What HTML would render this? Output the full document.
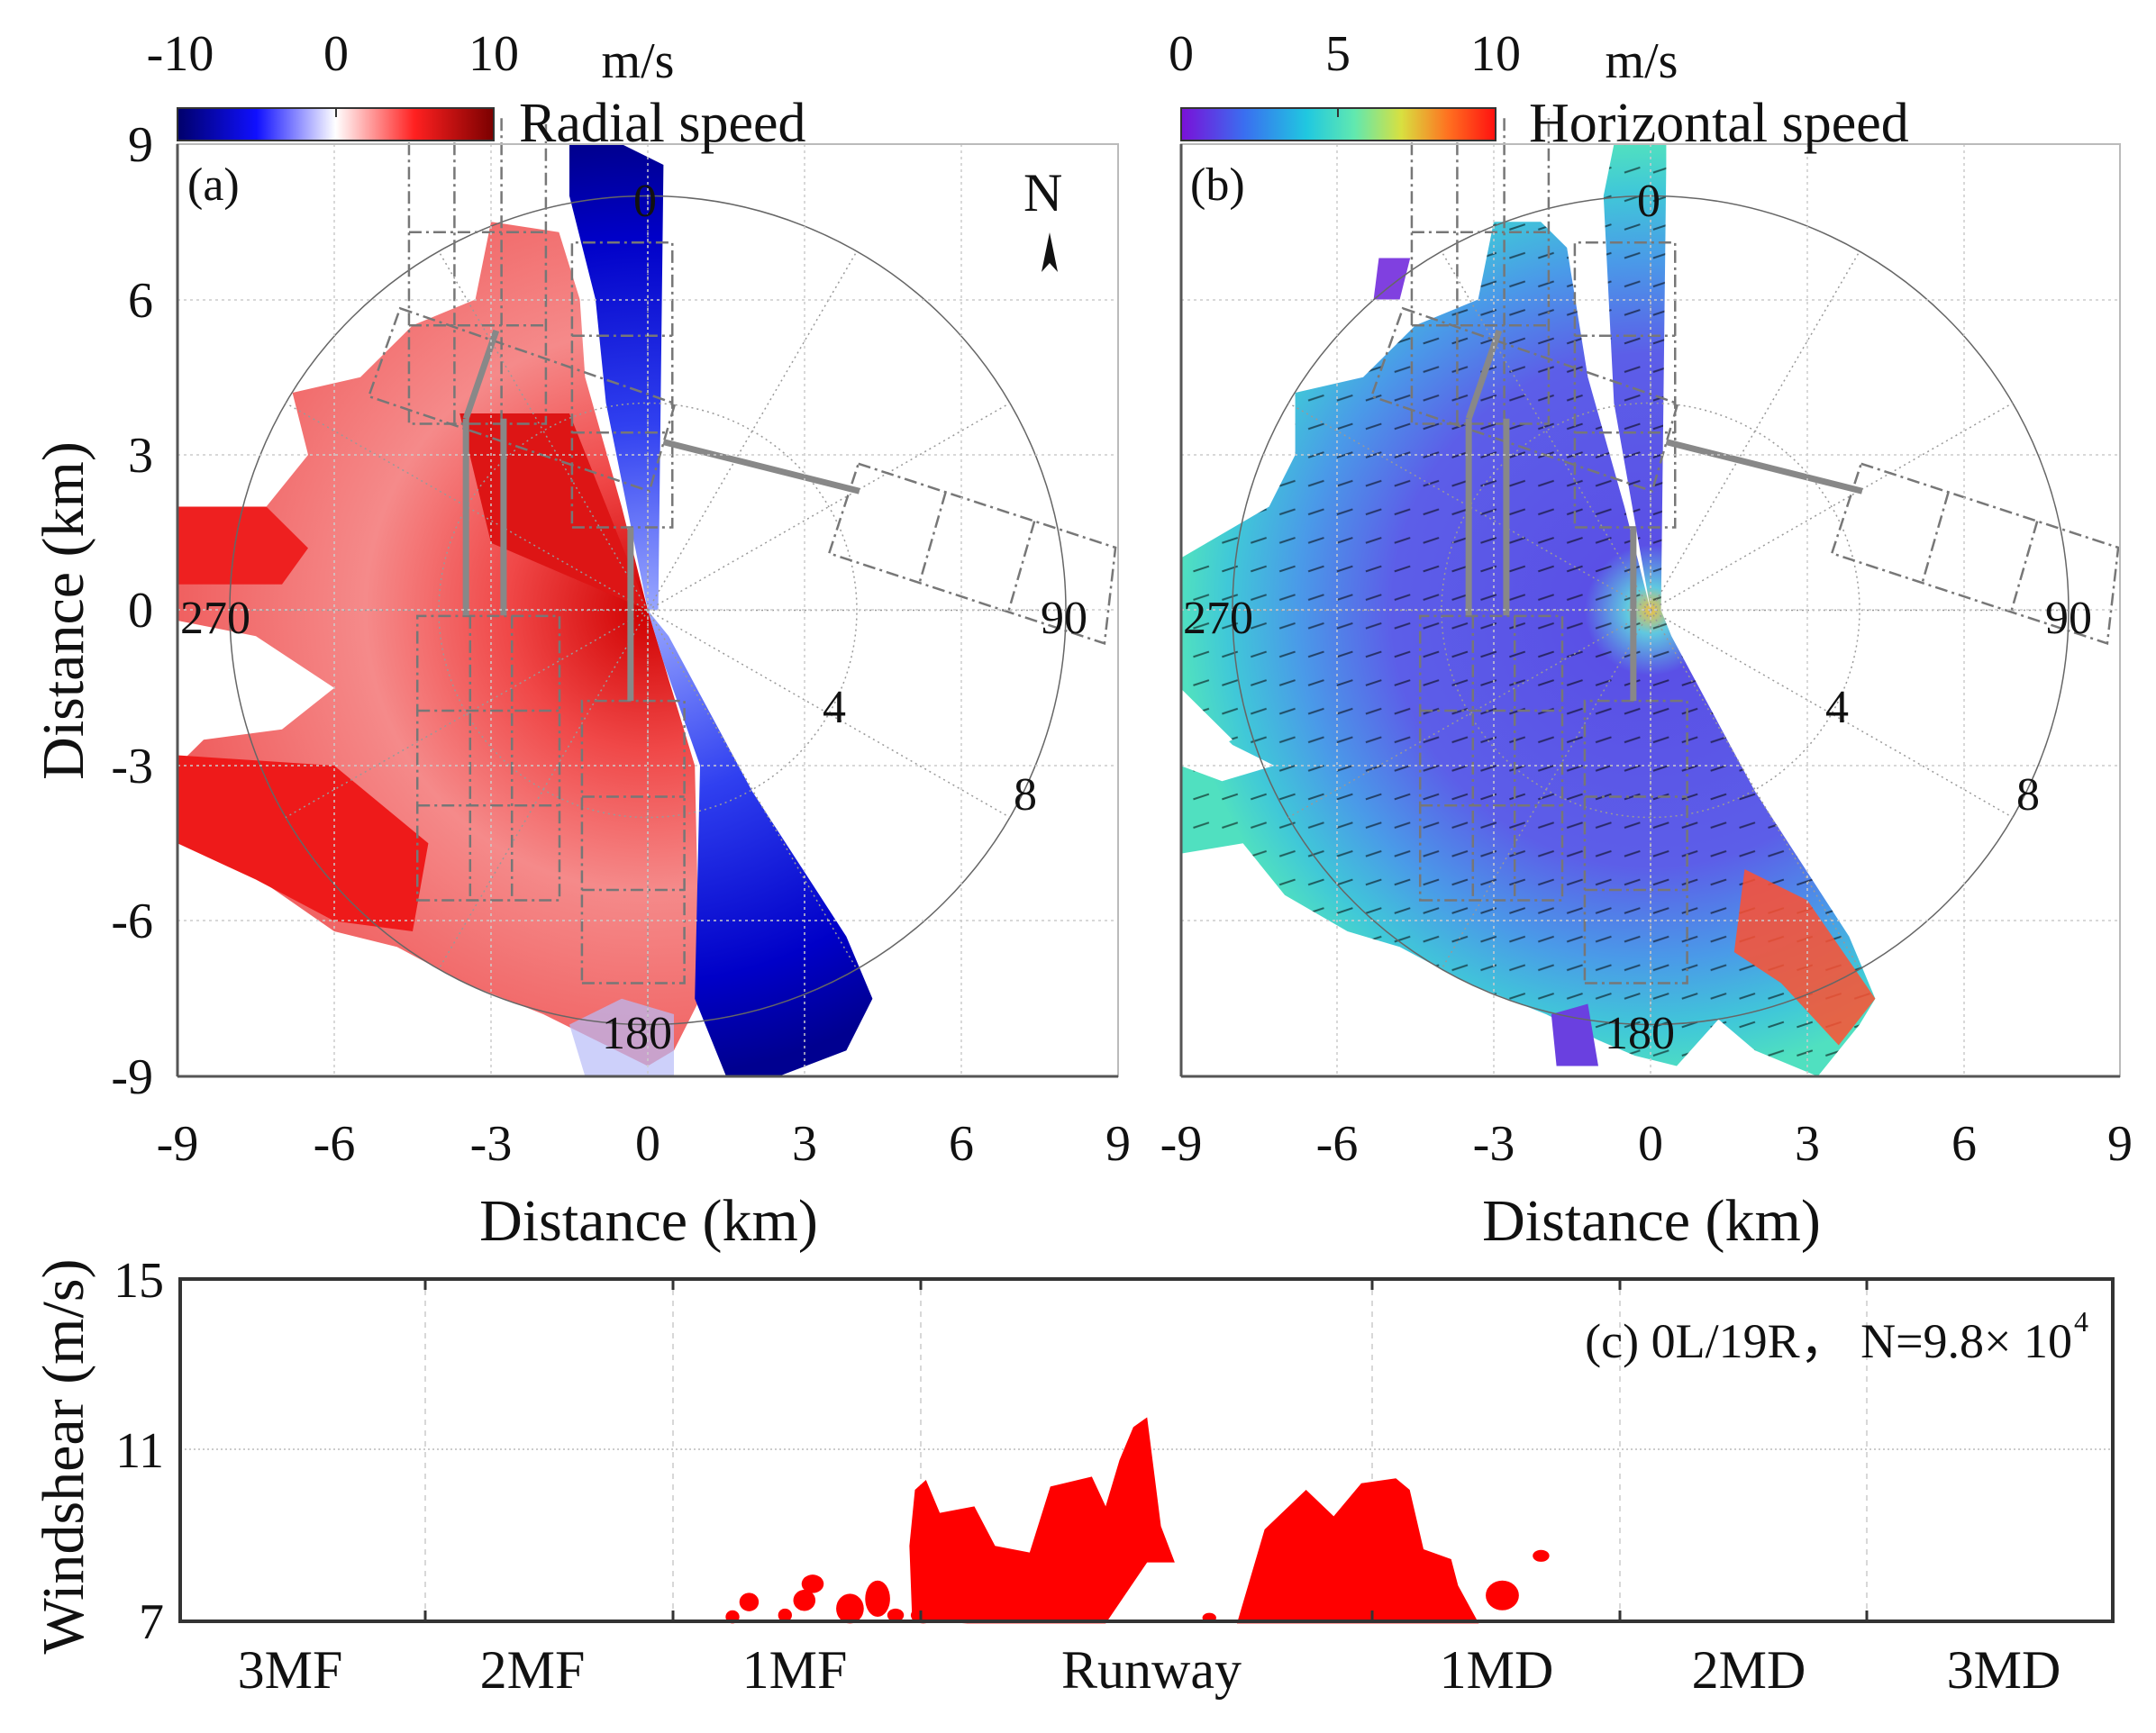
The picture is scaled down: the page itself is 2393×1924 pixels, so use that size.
<!DOCTYPE html>
<html><head><meta charset="utf-8"><style>
html,body{margin:0;padding:0;background:#fff}
svg{display:block}
text{font-family:"Liberation Serif",serif;fill:#111}
</style></head><body>
<svg width="2393" height="1924" viewBox="0 0 2393 1924" xmlns="http://www.w3.org/2000/svg">
<defs>
<linearGradient id="cbA" x1="0" x2="1" y1="0" y2="0">
<stop offset="0" stop-color="#00006a"/><stop offset="0.25" stop-color="#1010ff"/><stop offset="0.5" stop-color="#ffffff"/><stop offset="0.75" stop-color="#ff2020"/><stop offset="1" stop-color="#7a0000"/></linearGradient>
<linearGradient id="cbB" x1="0" x2="1" y1="0" y2="0">
<stop offset="0" stop-color="#7a10d8"/><stop offset="0.2" stop-color="#3a6ef0"/><stop offset="0.4" stop-color="#20c8e0"/><stop offset="0.55" stop-color="#60e8b0"/><stop offset="0.7" stop-color="#d8e040"/><stop offset="0.85" stop-color="#ff7020"/><stop offset="1" stop-color="#ff1010"/></linearGradient>
<radialGradient id="redG" gradientUnits="userSpaceOnUse" cx="0" cy="0" r="9">
<stop offset="0" stop-color="#d00000"/><stop offset="0.3" stop-color="#f04848"/><stop offset="0.6" stop-color="#f58a8a"/><stop offset="1" stop-color="#f06060"/></radialGradient>
<radialGradient id="blueG" gradientUnits="userSpaceOnUse" cx="0" cy="0" r="9">
<stop offset="0" stop-color="#9aa8ff"/><stop offset="0.4" stop-color="#3040f0"/><stop offset="0.8" stop-color="#0000c8"/><stop offset="1" stop-color="#000090"/></radialGradient>
<radialGradient id="horG" gradientUnits="userSpaceOnUse" cx="0" cy="0" r="9">
<stop offset="0" stop-color="#f0c040"/><stop offset="0.05" stop-color="#60c8e0"/><stop offset="0.14" stop-color="#5a50e6"/><stop offset="0.55" stop-color="#5c5ee8"/><stop offset="0.75" stop-color="#4a9ae8"/><stop offset="0.9" stop-color="#40c8d8"/><stop offset="1" stop-color="#50e0c0"/></radialGradient>
<pattern id="quiv" patternUnits="userSpaceOnUse" width="0.55" height="0.55">
<line x1="0.05" y1="0.2" x2="0.35" y2="0.3" stroke="#000" stroke-width="0.035" opacity="0.55"/></pattern>
<clipPath id="clipA"><rect x="197" y="160" width="1044" height="1035"/></clipPath>
<clipPath id="clipB"><rect x="1311" y="160" width="1042" height="1035"/></clipPath>
</defs>

<!-- ============ PANEL A ============ -->
<g clip-path="url(#clipA)">
<g transform="translate(719,677.5) scale(58,-57.5)">
<polygon fill="url(#redG)" points="0,0 -0.5,2 -1.2,4.5 -1.3,6 -1.7,7.3 -3,7.5 -3.3,6 -4.5,5.5 -5.5,4.5 -6.8,4.2 -6.5,3 -7.3,2 -9,2 -9,-0.2 -7.5,-0.5 -6,-1.5 -7,-2.3 -8.5,-2.5 -9,-3 -9,-4.5 -8,-4.8 -7,-5.5 -6,-6.2 -4.8,-6.5 -3.5,-7.2 -2,-7.8 -1,-8.3 0,-8.8 0.5,-8.5 1,-7.5 0.9,-3 0.3,-1"/>
<polygon fill="#dd1515" points="0,0 -1.5,3.8 -3.6,3.8 -3,1.3"/>
<polygon fill="#ee1a1a" points="-6,-3 -9,-2.8 -9,-4.5 -7.5,-5.2 -6,-6 -4.5,-6.2 -4.2,-4.5"/>
<polygon fill="#ee2020" points="-9,0.5 -7,0.5 -6.5,1.2 -7.3,2 -9,2"/>
<polygon fill="#fff" points="-9,-0.4 -7.5,-0.7 -6.2,-1.5 -7.2,-2.2 -9,-2.4"/>
<polygon fill="url(#blueG)" points="0,0 0.2,0 0.3,8.6 -0.5,9 -1.5,9 -1.5,8 -1,6 -0.8,4 -0.3,1.5"/>
<polygon fill="url(#blueG)" points="0,0 0.4,-0.5 2,-3.5 3.8,-6.3 4.3,-7.5 3.8,-8.5 2.5,-9 1.5,-9 0.9,-7.5 1,-3 0.3,-1"/>
<polygon fill="#b8bcf8" opacity="0.7" points="-0.5,-7.5 0.5,-7.8 0.5,-9 -1.2,-9 -1.5,-8"/>
</g>
</g>

<!-- ============ PANEL B ============ -->
<g clip-path="url(#clipB)">
<g transform="translate(1832,677.5) scale(58,-57.5)">
<polygon fill="url(#horG)" points="0,0 -0.5,2 -1.2,4.5 -1.6,7 -2.1,7.5 -3,7.5 -3.3,6 -4.5,5.5 -5.5,4.5 -6.8,4.2 -6.8,3 -7.3,2 -9,1 -9,-1.5 -8,-2.5 -9,-3 -9,-4.7 -7.8,-4.5 -7,-5.5 -5.8,-6.2 -4.8,-6.5 -3.5,-7.2 -2,-7.8 -1,-8.3 -0.3,-8.6 0.5,-8.8 1.3,-7.9 2,-8.5 3.2,-9 4,-8 4.3,-7.5 3.8,-6.3 2,-3.5 0.4,-0.5 0.2,0 0.3,8.6 0.3,9.3 -0.6,9.5 -0.9,8 -0.7,4"/>
<polygon fill="url(#quiv)" points="0,0 -0.5,2 -1.2,4.5 -1.6,7 -2.1,7.5 -3,7.5 -3.3,6 -4.5,5.5 -5.5,4.5 -6.8,4.2 -6.8,3 -7.3,2 -9,1 -9,-1.5 -8,-2.5 -9,-3 -9,-4.7 -7.8,-4.5 -7,-5.5 -5.8,-6.2 -4.8,-6.5 -3.5,-7.2 -2,-7.8 -1,-8.3 -0.3,-8.6 0.5,-8.8 1.3,-7.9 2,-8.5 3.2,-9 4,-8 4.3,-7.5 3.8,-6.3 2,-3.5 0.4,-0.5 0.2,0 0.3,8.6 0.3,9.3 -0.6,9.5 -0.9,8 -0.7,4"/>
<polygon fill="#ff5030" opacity="0.85" points="1.8,-5 3,-5.6 4.3,-7.5 3.6,-8.4 2.5,-7.2 1.6,-6.6"/>
<polygon fill="#fff" points="-9,-1.6 -8,-2.6 -7.2,-3 -8.2,-3.3 -9,-3"/>
<polygon fill="#8040e0" points="-5.2,6.8 -4.6,6.8 -4.8,6 -5.3,6"/>
<polygon fill="#6a40e0" points="-1.9,-7.8 -1.2,-7.6 -1,-8.8 -1.8,-8.8"/>
</g>
</g>

<!-- polar overlays (both panels) -->
<g id="ovA" transform="translate(719,677.5) scale(58,-57.5)" fill="none" stroke="#777">
<circle cx="0" cy="0" r="8" stroke="#666" stroke-width="1.5" vector-effect="non-scaling-stroke"/>
<circle cx="0" cy="0" r="4" stroke="#999" stroke-width="1.5" stroke-dasharray="2 4" vector-effect="non-scaling-stroke"/>
<g stroke="#999" stroke-width="1.5" stroke-dasharray="2 4" vector-effect="non-scaling-stroke">
<line x1="0" y1="0" x2="0" y2="8" vector-effect="non-scaling-stroke"/><line x1="0" y1="0" x2="4" y2="6.93" vector-effect="non-scaling-stroke"/><line x1="0" y1="0" x2="6.93" y2="4" vector-effect="non-scaling-stroke"/><line x1="0" y1="0" x2="8" y2="0" vector-effect="non-scaling-stroke"/><line x1="0" y1="0" x2="6.93" y2="-4" vector-effect="non-scaling-stroke"/><line x1="0" y1="0" x2="4" y2="-6.93" vector-effect="non-scaling-stroke"/><line x1="0" y1="0" x2="0" y2="-8" vector-effect="non-scaling-stroke"/><line x1="0" y1="0" x2="-4" y2="-6.93" vector-effect="non-scaling-stroke"/><line x1="0" y1="0" x2="-6.93" y2="-4" vector-effect="non-scaling-stroke"/><line x1="0" y1="0" x2="-8" y2="0" vector-effect="non-scaling-stroke"/><line x1="0" y1="0" x2="-6.93" y2="4" vector-effect="non-scaling-stroke"/><line x1="0" y1="0" x2="-4" y2="6.93" vector-effect="non-scaling-stroke"/>
</g>
<g stroke="#777" stroke-width="2.5" stroke-dasharray="14 5 3 5" vector-effect="non-scaling-stroke">
<polyline points="-4.57,9.5 -4.57,3.6 -1.95,3.6 -1.95,9.5" vector-effect="non-scaling-stroke"/>
<line x1="-4.57" y1="7.3" x2="-1.95" y2="7.3" vector-effect="non-scaling-stroke"/><line x1="-4.57" y1="5.5" x2="-1.95" y2="5.5" vector-effect="non-scaling-stroke"/>
<line x1="-3.7" y1="9.5" x2="-3.7" y2="3.6" vector-effect="non-scaling-stroke"/><line x1="-2.8" y1="9.5" x2="-2.8" y2="3.6" vector-effect="non-scaling-stroke"/>
<rect x="-1.45" y="1.6" width="1.92" height="5.5" vector-effect="non-scaling-stroke"/>
<line x1="-1.45" y1="5.3" x2="0.47" y2="5.3" vector-effect="non-scaling-stroke"/><line x1="-1.45" y1="3.43" x2="0.47" y2="3.43" vector-effect="non-scaling-stroke"/>
<polygon points="-4.74,5.83 0.52,3.99 0.03,2.3 -5.34,4.13" vector-effect="non-scaling-stroke"/>
<polygon points="4.03,2.83 8.95,1.21 8.74,-0.64 3.47,1.1" vector-effect="non-scaling-stroke"/>
<line x1="5.7" y1="2.28" x2="5.2" y2="0.53" vector-effect="non-scaling-stroke"/><line x1="7.4" y1="1.72" x2="6.9" y2="-0.03" vector-effect="non-scaling-stroke"/>
<rect x="-4.41" y="-5.6" width="2.72" height="5.49" vector-effect="non-scaling-stroke"/>
<line x1="-4.41" y1="-1.94" x2="-1.69" y2="-1.94" vector-effect="non-scaling-stroke"/><line x1="-4.41" y1="-3.77" x2="-1.69" y2="-3.77" vector-effect="non-scaling-stroke"/>
<line x1="-3.4" y1="-0.11" x2="-3.4" y2="-5.6" vector-effect="non-scaling-stroke"/><line x1="-2.6" y1="-0.11" x2="-2.6" y2="-5.6" vector-effect="non-scaling-stroke"/>
<rect x="-1.26" y="-7.2" width="1.96" height="5.45" vector-effect="non-scaling-stroke"/>
<line x1="-1.26" y1="-3.6" x2="0.7" y2="-3.6" vector-effect="non-scaling-stroke"/><line x1="-1.26" y1="-5.4" x2="0.7" y2="-5.4" vector-effect="non-scaling-stroke"/>
</g>
<g stroke="#888" stroke-width="7" vector-effect="non-scaling-stroke">
<line x1="-3.48" y1="-0.1" x2="-3.48" y2="3.7" vector-effect="non-scaling-stroke"/>
<line x1="-2.76" y1="-0.1" x2="-2.76" y2="3.7" vector-effect="non-scaling-stroke"/>
<line x1="-0.33" y1="1.6" x2="-0.33" y2="-1.75" vector-effect="non-scaling-stroke"/>
<line x1="0.3" y1="3.25" x2="4.05" y2="2.3" vector-effect="non-scaling-stroke"/>
<line x1="-3.48" y1="3.7" x2="-2.9" y2="5.4" vector-effect="non-scaling-stroke"/>
</g>
</g>
<use href="#ovA" transform="translate(1113,0)"/>

<!-- grid lines and axes -->
<g stroke="#ccc" stroke-width="1.5" stroke-dasharray="3 4">
<line x1="371" y1="160" x2="371" y2="1195"/><line x1="545" y1="160" x2="545" y2="1195"/><line x1="719" y1="160" x2="719" y2="1195"/><line x1="893" y1="160" x2="893" y2="1195"/><line x1="1067" y1="160" x2="1067" y2="1195"/>
<line x1="197" y1="333" x2="1241" y2="333"/><line x1="197" y1="505" x2="1241" y2="505"/><line x1="197" y1="677" x2="1241" y2="677"/><line x1="197" y1="850" x2="1241" y2="850"/><line x1="197" y1="1022" x2="1241" y2="1022"/>
<line x1="1484" y1="160" x2="1484" y2="1195"/><line x1="1658" y1="160" x2="1658" y2="1195"/><line x1="1832" y1="160" x2="1832" y2="1195"/><line x1="2006" y1="160" x2="2006" y2="1195"/><line x1="2180" y1="160" x2="2180" y2="1195"/>
<line x1="1311" y1="333" x2="2353" y2="333"/><line x1="1311" y1="505" x2="2353" y2="505"/><line x1="1311" y1="677" x2="2353" y2="677"/><line x1="1311" y1="850" x2="2353" y2="850"/><line x1="1311" y1="1022" x2="2353" y2="1022"/>
</g>
<rect x="197" y="160" width="1044" height="1035" fill="none" stroke="#bbb" stroke-width="2"/>
<rect x="1311" y="160" width="1042" height="1035" fill="none" stroke="#bbb" stroke-width="2"/>
<g stroke="#555" stroke-width="3">
<line x1="197" y1="160" x2="197" y2="1195"/><line x1="197" y1="1195" x2="1241" y2="1195"/>
<line x1="1311" y1="160" x2="1311" y2="1195"/><line x1="1311" y1="1195" x2="2353" y2="1195"/>
</g>

<!-- polar labels -->
<g font-size="52">
<text x="703" y="240">0</text><text x="200" y="703">270</text><text x="1155" y="703">90</text><text x="668" y="1164">180</text>
<text x="913" y="802">4</text><text x="1125" y="899">8</text>
<text x="1817" y="240">0</text><text x="1313" y="703">270</text><text x="2270" y="703">90</text><text x="1781" y="1164">180</text>
<text x="2026" y="802">4</text><text x="2238" y="899">8</text>
<text x="208" y="222">(a)</text><text x="1321" y="222">(b)</text>
<text x="1136" y="234" font-size="60">N</text>
</g>
<polygon points="1165,258 1156,302 1165,292 1174,302" fill="#111"/>

<!-- tick labels A/B -->
<g font-size="56" text-anchor="middle">
<text x="197" y="1288">-9</text><text x="371" y="1288">-6</text><text x="545" y="1288">-3</text><text x="719" y="1288">0</text><text x="893" y="1288">3</text><text x="1067" y="1288">6</text><text x="1241" y="1288">9</text>
<text x="1311" y="1288">-9</text><text x="1484" y="1288">-6</text><text x="1658" y="1288">-3</text><text x="1832" y="1288">0</text><text x="2006" y="1288">3</text><text x="2180" y="1288">6</text><text x="2353" y="1288">9</text>
</g>
<g font-size="56" text-anchor="end">
<text x="170" y="179">9</text><text x="170" y="352">6</text><text x="170" y="524">3</text><text x="170" y="696">0</text><text x="170" y="869">-3</text><text x="170" y="1041">-6</text><text x="170" y="1214">-9</text>
</g>
<g font-size="66" text-anchor="middle">
<text x="720" y="1377">Distance (km)</text><text x="1833" y="1377">Distance (km)</text>
<text transform="translate(92,678) rotate(-90)">Distance (km)</text>
<text transform="translate(92,1617) rotate(-90)">Windshear (m/s)</text>
</g>

<!-- colorbars -->
<rect x="197" y="120" width="351" height="36" fill="url(#cbA)" stroke="#333" stroke-width="2"/>
<line x1="373" y1="120" x2="373" y2="130" stroke="#333" stroke-width="2"/>
<rect x="1311" y="120" width="349" height="36" fill="url(#cbB)" stroke="#333" stroke-width="2"/>
<line x1="1485" y1="120" x2="1485" y2="130" stroke="#333" stroke-width="2"/>
<g font-size="56" text-anchor="middle">
<text x="200" y="78">-10</text><text x="373" y="78">0</text><text x="548" y="78">10</text><text x="708" y="86">m/s</text>
<text x="1311" y="78">0</text><text x="1485" y="78">5</text><text x="1660" y="78">10</text><text x="1822" y="86">m/s</text>
</g>
<g font-size="62">
<text x="576" y="157">Radial speed</text><text x="1697" y="157">Horizontal speed</text>
</g>

<!-- ============ PANEL C ============ -->
<g stroke="#ccc" stroke-width="1.5" stroke-dasharray="6 6">
<line x1="472" y1="1420" x2="472" y2="1800"/><line x1="747" y1="1420" x2="747" y2="1800"/><line x1="1022" y1="1420" x2="1022" y2="1800"/><line x1="1523" y1="1420" x2="1523" y2="1800"/><line x1="1798" y1="1420" x2="1798" y2="1800"/><line x1="2072" y1="1420" x2="2072" y2="1800"/>
</g>
<line x1="200" y1="1609" x2="2345" y2="1609" stroke="#ccc" stroke-width="2" stroke-dasharray="2 3"/>
<g transform="matrix(1.534,0,0,0.3663,0,1350)" fill="#ff0000">
<polygon points="660,1225 658,1000 662,830 670,800 680,900 705,880 720,1000 745,1020 760,820 790,790 800,880 810,740 820,640 830,610 840,940 850,1050 830,1050 800,1235 700,1235"/>
<polygon points="895,1235 915,950 945,830 965,910 985,810 1010,795 1020,830 1030,1010 1050,1040 1055,1120 1070,1235"/>
<ellipse cx="1087" cy="1150" rx="12" ry="45"/><ellipse cx="1115" cy="1030" rx="6" ry="18"/>
<ellipse cx="530" cy="1215" rx="5" ry="20"/><ellipse cx="542" cy="1170" rx="7" ry="28"/><ellipse cx="568" cy="1210" rx="5" ry="20"/>
<ellipse cx="582" cy="1165" rx="8" ry="32"/><ellipse cx="588" cy="1115" rx="8" ry="28"/><ellipse cx="615" cy="1190" rx="10" ry="45"/>
<ellipse cx="635" cy="1160" rx="9" ry="55"/><ellipse cx="648" cy="1210" rx="6" ry="20"/><ellipse cx="668" cy="1210" rx="9" ry="25"/>
<ellipse cx="875" cy="1218" rx="5" ry="15"/>
</g>
<rect x="200" y="1420" width="2145" height="380" fill="none" stroke="#333" stroke-width="4"/>
<g stroke="#333" stroke-width="3">
<line x1="472" y1="1420" x2="472" y2="1432"/><line x1="747" y1="1420" x2="747" y2="1432"/><line x1="1022" y1="1420" x2="1022" y2="1432"/><line x1="1523" y1="1420" x2="1523" y2="1432"/><line x1="1798" y1="1420" x2="1798" y2="1432"/><line x1="2072" y1="1420" x2="2072" y2="1432"/>
<line x1="472" y1="1800" x2="472" y2="1788"/><line x1="747" y1="1800" x2="747" y2="1788"/><line x1="1022" y1="1800" x2="1022" y2="1788"/><line x1="1523" y1="1800" x2="1523" y2="1788"/><line x1="1798" y1="1800" x2="1798" y2="1788"/><line x1="2072" y1="1800" x2="2072" y2="1788"/>
</g>
<g font-size="56" text-anchor="end">
<text x="182" y="1440">15</text><text x="182" y="1629">11</text><text x="182" y="1819">7</text>
</g>
<g font-size="60" text-anchor="middle">
<text x="322" y="1874">3MF</text><text x="591" y="1874">2MF</text><text x="882" y="1874">1MF</text><text x="1278" y="1874">Runway</text><text x="1661" y="1874">1MD</text><text x="1941" y="1874">2MD</text><text x="2224" y="1874">3MD</text>
</g>
<text x="2300" y="1507" font-size="54" text-anchor="end" font-family="Liberation Serif, Noto Serif CJK SC, serif">(c) 0L/19R， N=9.8× 10</text>
<text x="2302" y="1478" font-size="32">4</text>
</svg>
</body></html>
